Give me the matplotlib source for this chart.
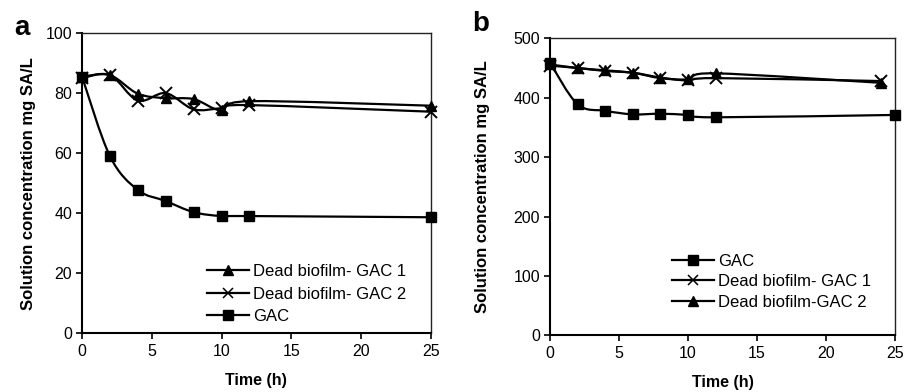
import numpy as np
import matplotlib
matplotlib.use("Agg")
import matplotlib.pyplot as plt
from matplotlib.path import Path
from matplotlib.patches import PathPatch
from matplotlib.lines import Line2D

plt.rcParams['font.family'] = ['Liberation Sans', 'DejaVu Sans']

# ---- data panel a ----
time_a = [0, 2, 4, 6, 8, 10, 12, 25]
a_dead1 = [85.5, 86, 79.8, 78.3, 78, 74.2, 77.3, 75.8]
a_dead2 = [85, 86, 77.5, 80, 74.6, 75, 76, 73.8]
a_gac = [85.5, 59, 47.7, 44, 40.3, 39, 39, 38.6]

# ---- data panel b ----
time_b_gac = [0, 2, 4, 6, 8, 10, 12, 25]
time_b_dead = [0, 2, 4, 6, 8, 10, 12, 24]
b_gac = [459, 389, 378, 372, 373, 371, 367, 371]
b_dead1 = [454, 450, 445, 442, 434, 429, 433, 428]
b_dead2 = [456, 450, 446, 442, 433, 431, 441, 425]

labels_a = ["Dead biofilm- GAC 1", "Dead biofilm- GAC 2", "GAC"]
labels_b = ["GAC", "Dead biofilm- GAC 1", "Dead biofilm-GAC 2"]


def smooth_path(x, y):
    pts = np.column_stack([x, y]).astype(float)
    n = len(pts)
    verts = [pts[0]]
    codes = [Path.MOVETO]
    for i in range(n - 1):
        p0 = pts[i - 1] if i > 0 else pts[i]
        p1 = pts[i]
        p2 = pts[i + 1]
        p3 = pts[i + 2] if i + 2 < n else pts[i + 1]
        c1 = p1 + (p2 - p0) / 6.0
        c2 = p2 - (p3 - p1) / 6.0
        verts += [c1, c2, p2]
        codes += [Path.CURVE4] * 3
    return Path(verts, codes)


def draw_series(ax, x, y, marker, ms, mew=1.0):
    ax.add_patch(PathPatch(smooth_path(x, y), facecolor='none',
                           edgecolor='black', lw=1.6, zorder=3,
                           clip_on=False))
    ax.plot(x, y, linestyle='none', marker=marker, ms=ms, color='black',
            mec='black', mew=mew, zorder=4, clip_on=False)


def style_axes(ax, ymax, ystep, label_x, xlabel_y):
    ax.set_xlim(0, 25)
    ax.set_ylim(0, ymax)
    ax.set_xticks(range(0, 26, 5))
    ax.set_yticks(range(0, ymax + 1, ystep))
    ax.tick_params(direction='out', length=4, width=1.2, labelsize=11.5,
                   colors='black', top=False, right=False, pad=3)
    ax.tick_params(axis='x', pad=4)
    for s in ['left', 'bottom']:
        ax.spines[s].set_linewidth(1.5)
    for s in ['top', 'right']:
        ax.spines[s].set_linewidth(1.0)
        ax.spines[s].set_color('#222222')
    ax.set_xlabel("Time (h)", fontsize=11.5, fontweight='bold')
    ax.xaxis.set_label_coords(0.5, xlabel_y)
    ax.set_ylabel("Solution concentration mg SA/L", fontsize=12,
                  fontweight='bold')
    ax.yaxis.set_label_coords(label_x, 0.5)


fig = plt.figure(figsize=(9.06, 3.92), dpi=100)
axa = fig.add_axes([0.0905, 0.1505, 0.385, 0.765])
axb = fig.add_axes([0.607, 0.1446, 0.381, 0.7577])

# panel a
style_axes(axa, 100, 20, -0.133, -0.135)
draw_series(axa, time_a, a_dead1, '^', 7.5)
draw_series(axa, time_a, a_dead2, 'x', 8, mew=1.4)
draw_series(axa, time_a, a_gac, 's', 6.5)
ha = [Line2D([], [], color='black', lw=1.6, marker='^', ms=6.5),
      Line2D([], [], color='black', lw=1.6, marker='x', ms=6.5, mew=1.1),
      Line2D([], [], color='black', lw=1.6, marker='s', ms=6.5)]
axa.legend(ha, labels_a, loc='upper left', bbox_to_anchor=(0.2285, 0.326),
           bbox_transform=fig.transFigure,
           frameon=False, fontsize=12, handlelength=2.5, handletextpad=0.25,
           labelspacing=0.45, borderaxespad=0, borderpad=0)

# panel b
style_axes(axb, 500, 100, -0.175, -0.132)
draw_series(axb, time_b_gac, b_gac, 's', 6.5)
draw_series(axb, time_b_dead, b_dead1, 'x', 8, mew=1.4)
draw_series(axb, time_b_dead, b_dead2, '^', 7.5)
hb = [Line2D([], [], color='black', lw=1.6, marker='s', ms=6.5),
      Line2D([], [], color='black', lw=1.6, marker='x', ms=6.5, mew=1.1),
      Line2D([], [], color='black', lw=1.6, marker='^', ms=6.5)]
axb.legend(hb, labels_b, loc='upper left', bbox_to_anchor=(0.7417, 0.353),
           bbox_transform=fig.transFigure,
           frameon=False, fontsize=12, handlelength=2.5, handletextpad=0.25,
           labelspacing=0.33, borderaxespad=0, borderpad=0)

fig.text(0.024, 0.928, "a", fontsize=20, fontweight='bold', va='center', ha='center')
fig.text(0.531, 0.94, "b", fontsize=20, fontweight='bold', va='center', ha='center')

fig.savefig("out.png", dpi=100)
